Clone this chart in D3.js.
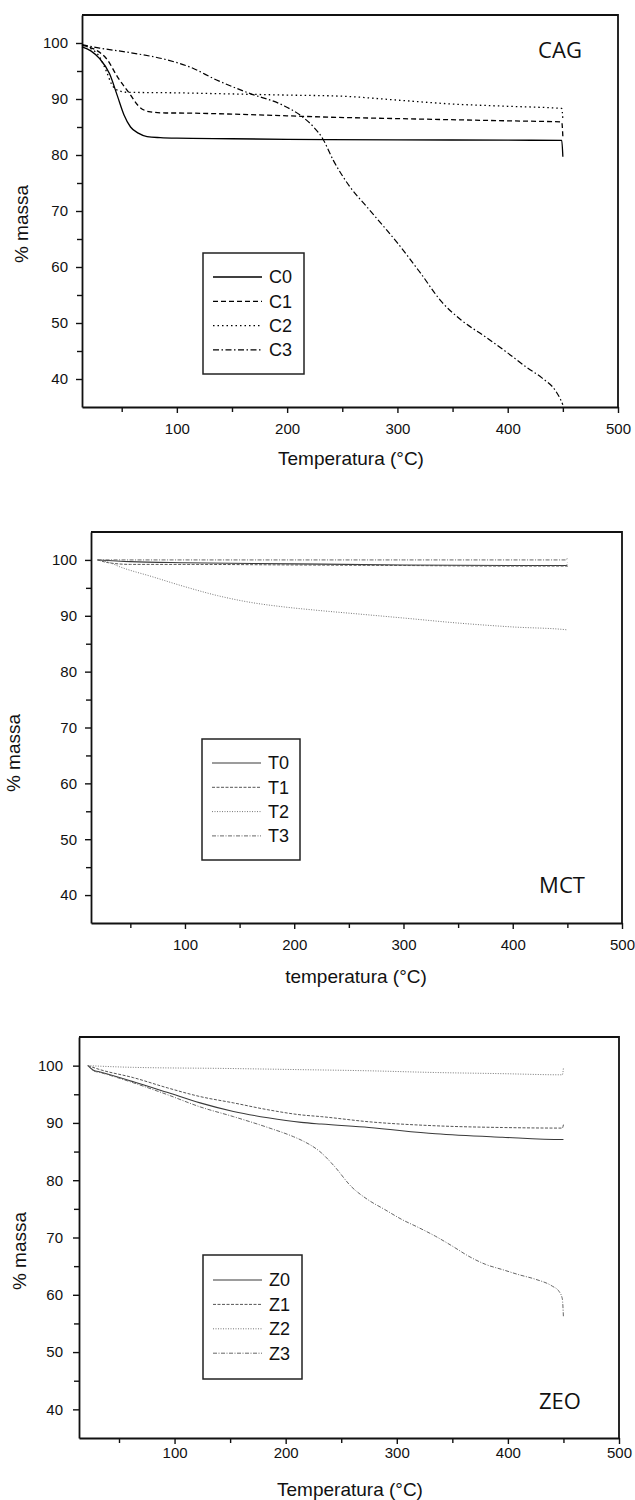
<!DOCTYPE html>
<html>
<head>
<meta charset="utf-8">
<script src="https://cdn.jsdelivr.net/npm/d3@7"></script>
<style>
  body { margin: 0; background: #fff; }
  svg { display: block; }
  .tick text { font-family: "Liberation Sans", Arial, sans-serif; }
</style>
</head>
<body>
<div id="chart"></div>
<script>
//------------------------------------------ data ------------------------------------------
const xDomain = [14, 500];
const yDomain = [35, 105];
const xMajor = [100, 200, 300, 400, 500];
const xMinor = [50, 150, 250, 350, 450];
const yMajor = [40, 50, 60, 70, 80, 90, 100];
const yMinor = [45, 55, 65, 75, 85, 95];

// CAG  [temperature, % mass]
const cagNames = ["C0", "C1", "C2", "C3"];
const c0 = [[14,99.3],[22,98.6],[30,97.2],[39,94.5],[46,90.6],[52,87.2],[58,85.0],[65,83.9],[73,83.3],[85,83.1],[100,83.0],
            [150,82.9],[200,82.8],[300,82.7],[400,82.65],[449,82.6],[450,79.7]];
const c1 = [[14,99.6],[20,99.3],[28,98.6],[37,97.0],[46,94.0],[57,91.0],[66,88.6],[76,87.7],[90,87.5],[100,87.5],
            [150,87.3],[200,87.0],[230,86.8],[300,86.5],[400,86.1],[449,85.9],[450,83.3]];
const c2 = [[14,99.6],[22,99.0],[30,97.5],[36,95.0],[41,92.6],[47,91.5],[55,91.2],[100,91.1],[150,90.9],[200,90.7],
            [250,90.5],[300,89.8],[350,89.1],[400,88.7],[449,88.3],[450,86.4]];
const c3 = [[14,99.7],[30,99.1],[60,98.2],[91,97.0],[112,95.7],[136,93.4],[166,91.0],[196,88.9],[214,86.8],[224,85.0],
            [232,83.0],[242,79.0],[257,74.3],[272,70.8],[289,66.9],[300,64.3],[321,58.9],[340,53.8],[358,50.5],
            [380,47.5],[399,44.8],[417,42.1],[431,40.2],[443,38.0],[448,36.3],[450,35.4]];

// MCT
const mctNames = ["T0", "T1", "T2", "T3"];
const t0 = [[20,100],[50,99.7],[100,99.5],[200,99.3],[300,99.1],[400,99.0],[449,99.0],[450,98.8]];
const t1 = [[20,100],[30,99.5],[50,99.2],[100,99.2],[200,99.1],[300,99.0],[400,98.9],[449,98.9],[450,99.5]];
const t2 = [[20,100],[30,99.6],[40,98.8],[70,97.0],[100,95.2],[130,93.6],[160,92.4],[190,91.6],[220,91.0],[260,90.3],
            [300,89.6],[350,88.7],[400,88.0],[449,87.5],[450,87.4]];
const t3 = [[20,100],[100,100],[200,100],[300,100],[400,100],[449,100],[450,100.4]];

// ZEO
const zeoNames = ["Z0", "Z1", "Z2", "Z3"];
const z0 = [[22,100],[27,99.2],[33,98.9],[63,97.2],[94,95.3],[123,93.5],[153,92.0],[184,90.9],[214,90.1],[232,89.8],
            [275,89.2],[335,88.1],[395,87.5],[449,87.1],[450,87.1]];
const z1 = [[22,100],[33,99.3],[63,97.9],[94,96.1],[123,94.6],[153,93.5],[184,92.3],[214,91.4],[232,91.1],[275,90.2],
            [335,89.5],[395,89.2],[449,89.1],[450,89.7]];
const z2 = [[22,100],[63,99.7],[150,99.5],[214,99.3],[275,99.1],[335,98.8],[395,98.6],[449,98.4],[450,99.6]];
const z3 = [[22,100],[27,99.1],[33,98.8],[63,97.0],[94,94.9],[123,92.8],[153,91.1],[184,89.2],[207,87.6],[214,87.0],
            [232,84.8],[244,82.4],[259,78.9],[274,76.6],[289,74.9],[305,73.1],[320,71.7],[335,70.2],[350,68.5],
            [365,66.7],[380,65.3],[395,64.4],[410,63.5],[425,62.7],[440,61.5],[446,60.6],[449,59.3],[450,56.0]];

//------------------------------------------ styles ---------------------------------------------------------------
const darkStyles = [
  {stroke: "#000", width: 1.3, dash: null},
  {stroke: "#000", width: 1.3, dash: "5,3"},
  {stroke: "#000", width: 1.3, dash: "1.5,3"},
  {stroke: "#000", width: 1.2, dash: "6,2.5,1.5,2.5"}
];
const greyStyles = [
  {stroke: "#3a3a3a", width: 1.1, dash: null},
  {stroke: "#555", width: 1, dash: "3,1.5"},
  {stroke: "#777", width: 1, dash: "1,1.5"},
  {stroke: "#666", width: 1, dash: "4,1.5,1,1.5"}
];

const panels = [
  {label: "CAG", xTitle: "Temperatura (°C)", names: cagNames, series: [c0, c1, c2, c3], styles: darkStyles,
   left: 82, top: 15, right: 618, bottom: 407, xPad: 10, yPad: 8, xTitleX: 351, xTitleY: 458, yTitleX: 21, yTitleY: 224,
   labelX: 560, labelY: 50, leg: {x: 203, y: 253, w: 101, h: 121, rowY: 277, step: 24.3}},
  {label: "MCT", xTitle: "temperatura (°C)", names: mctNames, series: [t0, t1, t2, t3], styles: greyStyles,
   left: 91, top: 532, right: 622, bottom: 923, xPad: 10, yPad: 8, xTitleX: 356, xTitleY: 976, yTitleX: 13, yTitleY: 753,
   labelX: 562, labelY: 885, leg: {x: 202, y: 739, w: 98, h: 121, rowY: 763, step: 24.3}},
  {label: "ZEO", xTitle: "Temperatura (°C)", names: zeoNames, series: [z0, z1, z2, z3], styles: greyStyles,
   left: 79, top: 1037, right: 619, bottom: 1438, xPad: 3, yPad: 10, xTitleX: 350, xTitleY: 1489, yTitleX: 19, yTitleY: 1251,
   labelX: 560, labelY: 1401, leg: {x: 203, y: 1255, w: 99, h: 124, rowY: 1280, step: 24.4}}
];

//------------------------------------------ svg ------------------------------------------------------------------
const svg = d3.select("#chart")
  .append("svg")
    .attr("width", 635)
    .attr("height", 1500);

svg.append("rect").attr("width", 635).attr("height", 1500).attr("fill", "#fff");

panels.forEach(drawPanel);

function drawPanel(p) {
  const x = d3.scaleLinear().domain(xDomain).range([p.left, p.right]);
  const y = d3.scaleLinear().domain(yDomain).range([p.bottom, p.top]);
  const g = svg.append("g");

  // frame (top + right)
  g.append("path")
    .attr("d", "M" + p.left + "," + p.top + "H" + p.right + "V" + p.bottom)
    .attr("fill", "none")
    .attr("stroke", "#111")
    .attr("stroke-width", 1.8);

  // minor ticks
  g.append("g")
    .attr("transform", "translate(0," + p.bottom + ")")
    .call(d3.axisBottom(x).tickValues(xMinor).tickSize(5).tickSizeOuter(0).tickFormat(""))
    .call(s => s.select(".domain").remove());
  g.append("g")
    .attr("transform", "translate(" + p.left + ",0)")
    .call(d3.axisLeft(y).tickValues(yMinor).tickSize(5).tickSizeOuter(0).tickFormat(""))
    .call(s => s.select(".domain").remove());

  // major axes
  const xa = g.append("g")
    .attr("transform", "translate(0," + p.bottom + ")")
    .call(d3.axisBottom(x).tickValues(xMajor).tickSize(6).tickSizeOuter(0).tickPadding(p.xPad));
  const ya = g.append("g")
    .attr("transform", "translate(" + p.left + ",0)")
    .call(d3.axisLeft(y).tickValues(yMajor).tickSize(6).tickSizeOuter(0).tickPadding(p.yPad));

  [xa, ya].forEach(a => {
    a.select(".domain").attr("stroke", "#111").attr("stroke-width", 1.8);
    a.selectAll(".tick text").attr("font-size", 15).attr("fill", "#111");
  });
  g.selectAll(".tick line").attr("stroke", "#111").attr("stroke-width", 1.4);

  // curves
  const line = d3.line()
    .x(d => x(d[0]))
    .y(d => y(d[1]))
    .curve(d3.curveMonotoneX);

  g.selectAll(".curve")
    .data(p.series)
    .enter()
    .append("path")
      .attr("class", "curve")
      .attr("d", line)
      .attr("fill", "none")
      .attr("stroke", (d, i) => p.styles[i].stroke)
      .attr("stroke-width", (d, i) => p.styles[i].width)
      .attr("stroke-dasharray", (d, i) => p.styles[i].dash);

  // axis titles
  g.append("text")
    .attr("x", p.xTitleX)
    .attr("y", p.xTitleY)
    .attr("dy", "0.35em")
    .attr("text-anchor", "middle")
    .attr("font-family", "Liberation Sans, Arial, sans-serif")
    .attr("font-size", 19)
    .attr("fill", "#111")
    .text(p.xTitle);

  g.append("text")
    .attr("transform", "translate(" + p.yTitleX + "," + p.yTitleY + ") rotate(-90)")
    .attr("dy", "0.35em")
    .attr("text-anchor", "middle")
    .attr("font-family", "Liberation Sans, Arial, sans-serif")
    .attr("font-size", 19)
    .attr("fill", "#111")
    .text("% massa");

  // panel label
  g.append("text")
    .attr("x", p.labelX)
    .attr("y", p.labelY)
    .attr("dy", "0.36em")
    .attr("text-anchor", "middle")
    .attr("font-family", "Open Sans, Noto Sans, sans-serif")
    .attr("font-size", 22)
    .attr("fill", "#111")
    .text(p.label);

  // legend
  const L = p.leg;
  const lg = g.append("g");
  lg.append("rect")
    .attr("x", L.x).attr("y", L.y)
    .attr("width", L.w).attr("height", L.h)
    .attr("fill", "#fff")
    .attr("stroke", "#222")
    .attr("stroke-width", 1.5);

  const rows = lg.selectAll(".row")
    .data(p.names)
    .enter()
    .append("g")
      .attr("class", "row")
      .attr("transform", (d, i) => "translate(" + L.x + "," + (L.rowY + i * L.step) + ")");

  rows.append("line")
    .attr("x1", 10).attr("x2", 59)
    .attr("stroke", (d, i) => p.styles[i].stroke)
    .attr("stroke-width", (d, i) => p.styles[i].width)
    .attr("stroke-dasharray", (d, i) => p.styles[i].dash);

  rows.append("text")
    .attr("x", 66)
    .attr("dy", "0.36em")
    .attr("font-family", "Liberation Sans, Arial, sans-serif")
    .attr("font-size", 18)
    .attr("fill", "#111")
    .text(d => d);
}
</script>
</body>
</html>
